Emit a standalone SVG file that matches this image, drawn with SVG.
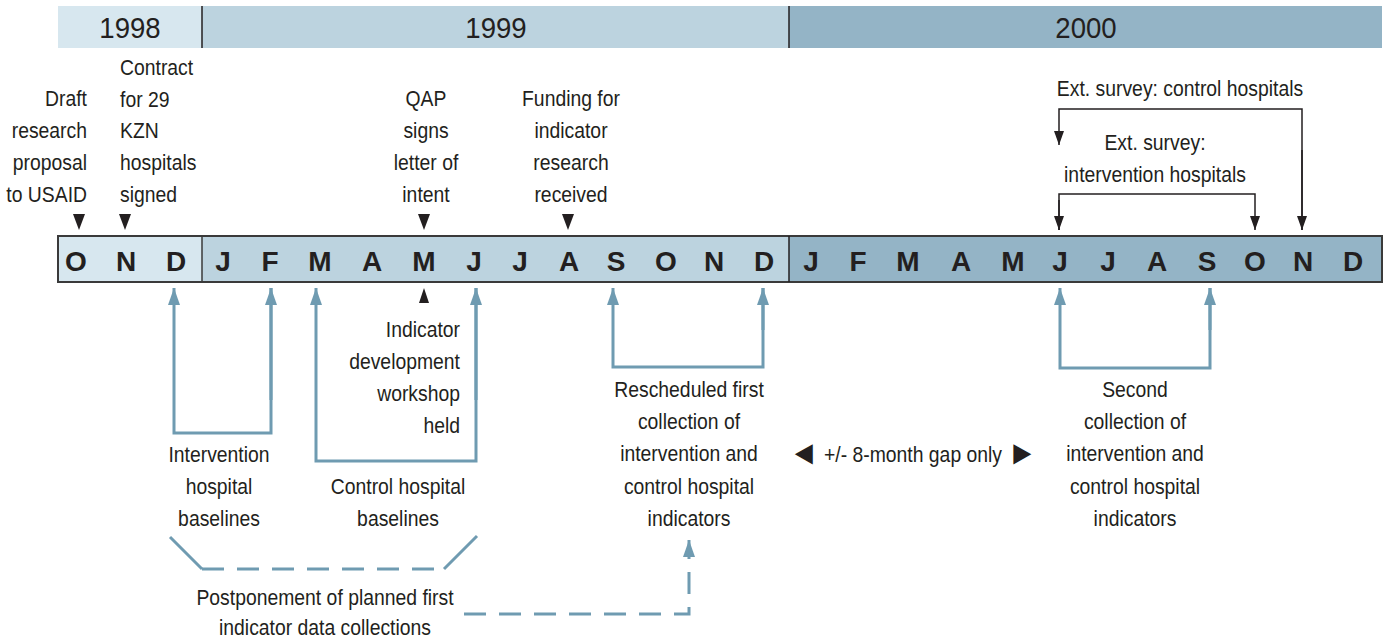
<svg xmlns="http://www.w3.org/2000/svg" width="1384" height="638" viewBox="0 0 1384 638">
<style>
.t{font-family:"Liberation Sans",Arial,sans-serif;font-size:22px;fill:#231f20}
.c{text-anchor:middle}
.r{text-anchor:end}
.yr{font-family:"Liberation Sans",Arial,sans-serif;font-size:30px;fill:#231f20;text-anchor:middle}
.mo{font-family:"Liberation Sans",Arial,sans-serif;font-size:28px;font-weight:bold;fill:#231f20;text-anchor:middle}
.blue{fill:none;stroke:#6f9bb1;stroke-width:3}
.dash{stroke-dasharray:22 13}
.blk{fill:none;stroke:#231f20;stroke-width:1.5}
.tri{fill:#231f20}
</style>
<defs>
<marker id="ab" markerUnits="userSpaceOnUse" markerWidth="17" markerHeight="12" viewBox="0 0 17 12" refX="17" refY="6" orient="auto">
<path d="M0,0 L17,6 L0,12 z" fill="#6f9bb1"/>
</marker>
<marker id="ak" markerUnits="userSpaceOnUse" markerWidth="14" markerHeight="10" viewBox="0 0 14 10" refX="14" refY="5" orient="auto">
<path d="M0,0 L14,5 L0,10 z" fill="#231f20"/>
</marker>
</defs>

<g id="year-bar">
<rect x="58" y="6" width="144" height="42" fill="#d7e7ef"/>
<rect x="202" y="6" width="587" height="42" fill="#bcd3df"/>
<rect x="789" y="6" width="593" height="42" fill="#94b4c6"/>
<line x1="202" y1="6" x2="202" y2="48" stroke="#231f20" stroke-width="1.5"/>
<line x1="789" y1="6" x2="789" y2="48" stroke="#231f20" stroke-width="1.5"/>
<text class="yr" transform="translate(130 38) scale(.92 1)">1998</text>
<text class="yr" transform="translate(496 38) scale(.92 1)">1999</text>
<text class="yr" transform="translate(1086 38) scale(.92 1)">2000</text>
</g>

<g id="month-bar">
<rect x="58" y="236" width="144" height="46" fill="#d7e7ef"/>
<rect x="202" y="236" width="587" height="46" fill="#bcd3df"/>
<rect x="789" y="236" width="593" height="46" fill="#94b4c6"/>
<rect x="58" y="236" width="1324" height="46" fill="none" stroke="#3a3a3a" stroke-width="2"/>
<line x1="202" y1="236" x2="202" y2="282" stroke="#3a3a3a" stroke-width="1.5"/>
<line x1="789" y1="236" x2="789" y2="282" stroke="#231f20" stroke-width="1.5"/>
<text class="mo" x="76" y="271">O</text>
<text class="mo" x="126" y="271">N</text>
<text class="mo" x="176" y="271">D</text>
<text class="mo" x="223" y="271">J</text>
<text class="mo" x="270" y="271">F</text>
<text class="mo" x="320" y="271">M</text>
<text class="mo" x="372" y="271">A</text>
<text class="mo" x="424" y="271">M</text>
<text class="mo" x="474" y="271">J</text>
<text class="mo" x="520" y="271">J</text>
<text class="mo" x="569" y="271">A</text>
<text class="mo" x="616" y="271">S</text>
<text class="mo" x="666" y="271">O</text>
<text class="mo" x="714" y="271">N</text>
<text class="mo" x="764" y="271">D</text>
<text class="mo" x="811" y="271">J</text>
<text class="mo" x="858" y="271">F</text>
<text class="mo" x="908" y="271">M</text>
<text class="mo" x="961" y="271">A</text>
<text class="mo" x="1013" y="271">M</text>
<text class="mo" x="1060" y="271">J</text>
<text class="mo" x="1108" y="271">J</text>
<text class="mo" x="1157" y="271">A</text>
<text class="mo" x="1207" y="271">S</text>
<text class="mo" x="1255" y="271">O</text>
<text class="mo" x="1303" y="271">N</text>
<text class="mo" x="1353" y="271">D</text>
</g>

<g id="connectors">
<polygon class="tri" points="73,214 85,214 79,230"/>
<polygon class="tri" points="119,214 131,214 125,230"/>
<polygon class="tri" points="418,214 430,214 424,230"/>
<polygon class="tri" points="562,214 574,214 568,230"/>
<polygon class="tri" points="419,303 429,303 424,288"/>
<polyline class="blk" points="1059,230 1059,194 1255,194 1255,230" marker-end="url(#ak)"/>
<line class="blk" x1="1059" y1="200" x2="1059" y2="230" marker-end="url(#ak)"/>
<polyline class="blk" points="1302,230 1302,109 1059,109 1059,145" marker-end="url(#ak)"/>
<line class="blk" x1="1302" y1="150" x2="1302" y2="230" marker-end="url(#ak)"/>
<polyline class="blue" points="271,288 271,433 174,433 174,288" marker-end="url(#ab)"/>
<line class="blue" x1="271" y1="400" x2="271" y2="288" marker-end="url(#ab)"/>
<polyline class="blue" points="476,288 476,461 316,461 316,288" marker-end="url(#ab)"/>
<line class="blue" x1="476" y1="400" x2="476" y2="288" marker-end="url(#ab)"/>
<polyline class="blue" points="763,288 763,367 613,367 613,288" marker-end="url(#ab)"/>
<line class="blue" x1="763" y1="330" x2="763" y2="288" marker-end="url(#ab)"/>
<polyline class="blue" points="1210,288 1210,368 1060,368 1060,288" marker-end="url(#ab)"/>
<line class="blue" x1="1210" y1="330" x2="1210" y2="288" marker-end="url(#ab)"/>
<line class="blue" x1="170" y1="537" x2="202" y2="569"/>
<line class="blue" x1="444" y1="569" x2="477" y2="536"/>
<line class="blue dash" x1="202" y1="569" x2="444" y2="569"/>
<polyline class="blue dash" points="464,614 689,614 689,540" marker-end="url(#ab)"/>
</g>

<g id="n-draft">
<text class="t r" transform="translate(87 106) scale(.88 1)">Draft</text>
<text class="t r" transform="translate(87 138) scale(.88 1)">research</text>
<text class="t r" transform="translate(87 170) scale(.88 1)">proposal</text>
<text class="t r" transform="translate(87 202) scale(.88 1)">to USAID</text>
</g>
<g id="n-contract">
<text class="t" transform="translate(120 75) scale(.88 1)">Contract</text>
<text class="t" transform="translate(120 107) scale(.88 1)">for 29</text>
<text class="t" transform="translate(120 138) scale(.88 1)">KZN</text>
<text class="t" transform="translate(120 170) scale(.88 1)">hospitals</text>
<text class="t" transform="translate(120 202) scale(.88 1)">signed</text>
</g>
<g id="n-qap">
<text class="t c" transform="translate(426 106) scale(.88 1)">QAP</text>
<text class="t c" transform="translate(426 138) scale(.88 1)">signs</text>
<text class="t c" transform="translate(426 170) scale(.88 1)">letter of</text>
<text class="t c" transform="translate(426 202) scale(.88 1)">intent</text>
</g>
<g id="n-funding">
<text class="t c" transform="translate(571 106) scale(.88 1)">Funding for</text>
<text class="t c" transform="translate(571 138) scale(.88 1)">indicator</text>
<text class="t c" transform="translate(571 170) scale(.88 1)">research</text>
<text class="t c" transform="translate(571 202) scale(.88 1)">received</text>
</g>
<g id="n-ext-control">
<text class="t c" transform="translate(1180 96) scale(.88 1)">Ext. survey: control hospitals</text>
</g>
<g id="n-ext-intervention">
<text class="t c" transform="translate(1155 150) scale(.88 1)">Ext. survey:</text>
<text class="t c" transform="translate(1155 182) scale(.88 1)">intervention hospitals</text>
</g>
<g id="n-workshop">
<text class="t r" transform="translate(460 337) scale(.88 1)">Indicator</text>
<text class="t r" transform="translate(460 369) scale(.88 1)">development</text>
<text class="t r" transform="translate(460 401) scale(.88 1)">workshop</text>
<text class="t r" transform="translate(460 433) scale(.88 1)">held</text>
</g>
<g id="n-int-baselines">
<text class="t c" transform="translate(219 462) scale(.88 1)">Intervention</text>
<text class="t c" transform="translate(219 494) scale(.88 1)">hospital</text>
<text class="t c" transform="translate(219 526) scale(.88 1)">baselines</text>
</g>
<g id="n-ctrl-baselines">
<text class="t c" transform="translate(398 494) scale(.88 1)">Control hospital</text>
<text class="t c" transform="translate(398 526) scale(.88 1)">baselines</text>
</g>
<g id="n-rescheduled">
<text class="t c" transform="translate(689 397) scale(.88 1)">Rescheduled first</text>
<text class="t c" transform="translate(689 429) scale(.88 1)">collection of</text>
<text class="t c" transform="translate(689 461) scale(.88 1)">intervention and</text>
<text class="t c" transform="translate(689 494) scale(.88 1)">control hospital</text>
<text class="t c" transform="translate(689 526) scale(.88 1)">indicators</text>
</g>
<g id="n-gap">
<text class="t c" transform="translate(913 462) scale(.88 1)"><tspan font-size="34" dy="2">◄</tspan><tspan dy="-2"> +/- 8-month gap only </tspan><tspan font-size="34" dy="2">►</tspan></text>
</g>
<g id="n-second">
<text class="t c" transform="translate(1135 397) scale(.88 1)">Second</text>
<text class="t c" transform="translate(1135 429) scale(.88 1)">collection of</text>
<text class="t c" transform="translate(1135 461) scale(.88 1)">intervention and</text>
<text class="t c" transform="translate(1135 494) scale(.88 1)">control hospital</text>
<text class="t c" transform="translate(1135 526) scale(.88 1)">indicators</text>
</g>
<g id="n-postponement">
<text class="t c" transform="translate(325 605) scale(.88 1)">Postponement of planned first</text>
<text class="t c" transform="translate(325 635) scale(.88 1)">indicator data collections</text>
</g>
</svg>
